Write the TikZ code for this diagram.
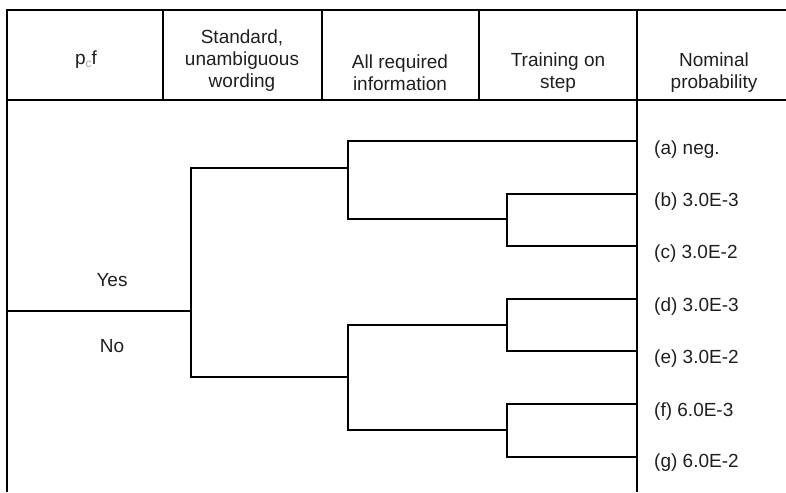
\documentclass[tikz,border=0pt]{standalone}
\usepackage{fontspec}
\setmainfont{Liberation Sans}
\begin{document}
\begin{tikzpicture}[x=1pt,y=-1pt,
  border/.style={line width=2.4pt,black},
  branch/.style={line width=2pt,black},
  lbl/.style={inner sep=0pt,font=\fontsize{19}{22}\selectfont,text=black!88},
  hdr/.style={lbl,align=center}]
\useasboundingbox (0,0) rectangle (786,492);
% frame
\coordinate (tl) at (7,10);
\coordinate (tr) at (786,10);
\coordinate (hl) at (7,100);
\coordinate (hr) at (786,100);
\coordinate (bl) at (7,492);
\coordinate (c1t) at (163,10); \coordinate (c1b) at (163,100);
\coordinate (c2t) at (322,10); \coordinate (c2b) at (322,100);
\coordinate (c3t) at (479,10); \coordinate (c3b) at (479,100);
\coordinate (c4t) at (637,10); \coordinate (c4b) at (637,492);
\draw[border] (tr) -- (tl) -- (bl);
\draw[border] (hl) -- (hr);
\draw[border] (c1t) -- (c1b);
\draw[border] (c2t) -- (c2b);
\draw[border] (c3t) -- (c3b);
\draw[border] (c4t) -- (c4b);
% header texts
\node[lbl,anchor=base] (h1) at (86,65) {p{\color{black!35}\fontsize{12}{12}\selectfont\raisebox{-3pt}{c}}f};
\node[hdr] (h2) at (242,61) {Standard,\\unambiguous\\wording};
\node[hdr] (h3) at (400,73) {All required\\information};
\node[hdr] (h4) at (558,73) {Training on\\step};
\node[hdr] (h5) at (714,73) {Nominal\\probability};
% tree
\coordinate (r) at (7,311);
\coordinate (s) at (191,311);
\coordinate (iU) at (348,168);
\coordinate (iL) at (348,377);
\coordinate (t1) at (507,219);
\coordinate (t2) at (507,325);
\coordinate (t3) at (507,430);
\coordinate (ea) at (637,141);
\coordinate (eb) at (637,194);
\coordinate (ec) at (637,246);
\coordinate (ed) at (637,299);
\coordinate (ee) at (637,351);
\coordinate (ef) at (637,404);
\coordinate (eg) at (637,457);
\draw[branch] (r) -- (s);
\draw[branch] (iU) -| (s);
\draw[branch] (iL) -| (s);
\draw[branch] (ea) -| (iU);
\draw[branch] (t1) -| (iU);
\draw[branch] (eb) -| (t1);
\draw[branch] (ec) -| (t1);
\draw[branch] (t2) -| (iL);
\draw[branch] (t3) -| (iL);
\draw[branch] (ed) -| (t2);
\draw[branch] (ee) -| (t2);
\draw[branch] (ef) -| (t3);
\draw[branch] (eg) -| (t3);
% labels
\node[lbl] (yes) at (112,280) {Yes};
\node[lbl] (no) at (112,346) {No};
\node[lbl,anchor=west] (la) at (654,150) {(a) neg.};
\node[lbl,anchor=west] (lb) at (654,202) {(b) 3.0E-3};
\node[lbl,anchor=west] (lc) at (654,254) {(c) 3.0E-2};
\node[lbl,anchor=west] (ld) at (654,307) {(d) 3.0E-3};
\node[lbl,anchor=west] (le) at (654,359) {(e) 3.0E-2};
\node[lbl,anchor=west] (lf) at (654,412) {(f) 6.0E-3};
\node[lbl,anchor=west] (lg) at (654,463) {(g) 6.0E-2};
\end{tikzpicture}
\end{document}
